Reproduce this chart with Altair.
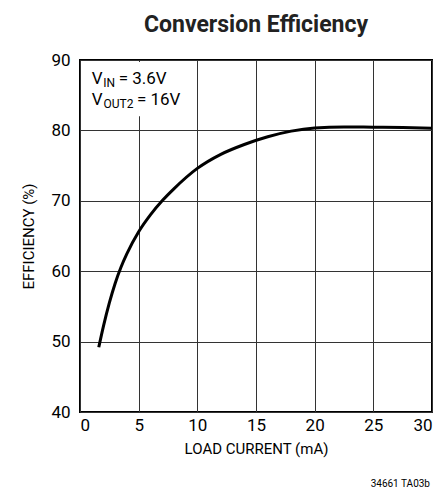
import altair as alt
import pandas as pd

# Curve data
load_ma = [1.6, 2.0, 2.5, 3.0, 3.5, 4.0, 5.0, 6.0, 7.0, 8.0, 10.0, 12.0, 14.0,
           16.0, 18.0, 20.0, 22.5, 25.0, 27.5, 30.0]
efficiency = [49.2, 52.2, 55.5, 58.3, 60.6, 62.5, 65.6, 68.0, 70.0, 71.7, 74.6,
              76.6, 78.0, 79.1, 79.9, 80.35, 80.5, 80.45, 80.4, 80.3]

x_ticks = [0, 5, 10, 15, 20, 25, 30]
y_ticks = [40, 50, 60, 70, 80, 90]

# Annotation pieces: text, x (mA), y (%), size
ann_text = ["V", "IN", "= 3.6V", "V", "OUT2", "= 16V"]
ann_x = [1.0, 1.98, 3.3, 1.0, 2.0, 4.85]
ann_y = [86.55, 86.1, 86.55, 83.6, 83.15, 83.6]
ann_size = [17, 12, 17, 17, 12, 17]

FONT = "Roboto"

W, H = 352, 352

curve = pd.DataFrame({"load": load_ma, "eff": efficiency})
ann = pd.DataFrame({"t": ann_text, "x": ann_x, "y": ann_y, "s": ann_size})
box = pd.DataFrame({"x": [0.15], "x2": [8.6], "y": [82.0], "y2": [89.7]})

xscale = alt.Scale(domain=[0, 30], nice=False)
yscale = alt.Scale(domain=[40, 90], nice=False)

xaxis = alt.Axis(values=x_ticks, title="LOAD CURRENT (mA)", grid=True, ticks=False,
                 domain=False, labelPadding=5, titlePadding=8)
yaxis = alt.Axis(values=y_ticks, title="EFFICIENCY (%)", grid=True, ticks=False,
                 domain=False, labelPadding=10, titlePadding=14)

line = alt.Chart(curve).mark_line(color="black", strokeWidth=3, interpolate="monotone").encode(
    x=alt.X("load:Q", scale=xscale, axis=xaxis),
    y=alt.Y("eff:Q", scale=yscale, axis=yaxis),
)

rect = alt.Chart(box).mark_rect(color="white").encode(
    x=alt.X("x:Q", scale=xscale), x2="x2", y=alt.Y("y:Q", scale=yscale), y2="y2"
)

text = alt.Chart(ann).mark_text(align="left", baseline="alphabetic", font=FONT, color="black").encode(
    x=alt.X("x:Q", scale=xscale),
    y=alt.Y("y:Q", scale=yscale),
    text="t:N",
    size=alt.Size("s:Q", scale=None, legend=None),
)

foot = alt.Chart(pd.DataFrame({"t": ["34661 TA03b"]})).mark_text(
    align="right", baseline="alphabetic", font=FONT, fontSize=10, color="black"
).encode(x=alt.value(W - 2), y=alt.value(H + 75), text="t:N")

chart = alt.layer(rect, line, text, foot).properties(
    width=W, height=H,
    title=alt.TitleParams("Conversion Efficiency", font=FONT, fontSize=23, fontWeight="bold",
                          anchor="middle", offset=14, color="#222"),
    autosize=alt.AutoSizeParams(type="none"),
    padding={"left": 72, "top": 52, "right": 7, "bottom": 77},
).configure_view(stroke="black", strokeWidth=2).configure_axis(
    gridColor="#333", gridWidth=1, gridOpacity=1, labelFont=FONT, titleFont=FONT,
    labelFontSize=17, titleFontSize=15, labelColor="black", titleColor="black",
    titleFontWeight="normal",
)

chart.save("out.html", embed_options={"renderer": "svg", "actions": False})
